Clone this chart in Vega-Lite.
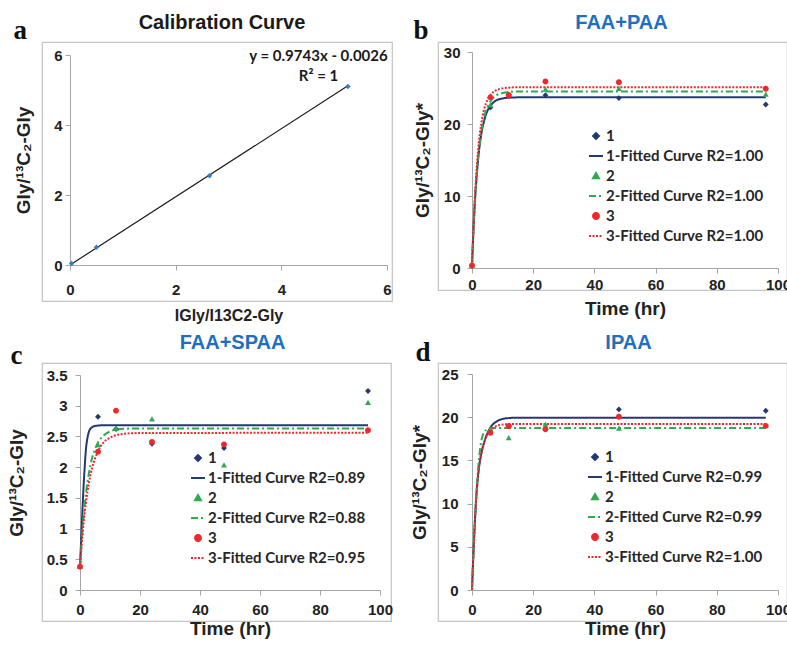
{
"$schema": "https://vega.github.io/schema/vega-lite/v6.json",
"background": "white",
"padding": {"left": 6, "top": 12, "right": 0, "bottom": 0},
"datasets": {
"calib": [{"x":0.03,"y":0.04},{"x":0.5,"y":0.51},{"x":2.64,"y":2.55},{"x":5.26,"y":5.1}],
"calibFit": [{"x":0.03,"y":0.03},{"x":5.26,"y":5.12}],
"pts": [
{"panel":"b","t":0,"v":0.3,"series":"1"},{"panel":"b","t":6,"v":22.3,"series":"1"},{"panel":"b","t":12,"v":24.1,"series":"1"},{"panel":"b","t":24,"v":24.0,"series":"1"},{"panel":"b","t":48,"v":23.6,"series":"1"},{"panel":"b","t":96,"v":22.7,"series":"1"},
{"panel":"b","t":0,"v":0.3,"series":"2"},{"panel":"b","t":6,"v":22.6,"series":"2"},{"panel":"b","t":12,"v":24.1,"series":"2"},{"panel":"b","t":24,"v":24.8,"series":"2"},{"panel":"b","t":48,"v":24.9,"series":"2"},{"panel":"b","t":96,"v":24.1,"series":"2"},
{"panel":"b","t":0,"v":0.35,"series":"3"},{"panel":"b","t":6,"v":23.7,"series":"3"},{"panel":"b","t":12,"v":24.0,"series":"3"},{"panel":"b","t":24,"v":25.9,"series":"3"},{"panel":"b","t":48,"v":25.8,"series":"3"},{"panel":"b","t":96,"v":24.9,"series":"3"},
{"panel":"c","t":0,"v":0.38,"series":"1"},{"panel":"c","t":6,"v":2.82,"series":"1"},{"panel":"c","t":12,"v":2.62,"series":"1"},{"panel":"c","t":24,"v":2.38,"series":"1"},{"panel":"c","t":48,"v":2.31,"series":"1"},{"panel":"c","t":96,"v":3.24,"series":"1"},
{"panel":"c","t":0,"v":0.38,"series":"2"},{"panel":"c","t":6,"v":2.36,"series":"2"},{"panel":"c","t":12,"v":2.63,"series":"2"},{"panel":"c","t":24,"v":2.78,"series":"2"},{"panel":"c","t":48,"v":2.03,"series":"2"},{"panel":"c","t":96,"v":3.05,"series":"2"},
{"panel":"c","t":0,"v":0.38,"series":"3"},{"panel":"c","t":6,"v":2.25,"series":"3"},{"panel":"c","t":12,"v":2.92,"series":"3"},{"panel":"c","t":24,"v":2.41,"series":"3"},{"panel":"c","t":48,"v":2.37,"series":"3"},{"panel":"c","t":96,"v":2.6,"series":"3"},
{"panel":"d","t":6,"v":18.3,"series":"1"},{"panel":"d","t":12,"v":19.0,"series":"1"},{"panel":"d","t":24,"v":18.6,"series":"1"},{"panel":"d","t":48,"v":20.9,"series":"1"},{"panel":"d","t":96,"v":20.75,"series":"1"},
{"panel":"d","t":6,"v":18.6,"series":"2"},{"panel":"d","t":12,"v":17.6,"series":"2"},{"panel":"d","t":24,"v":19.15,"series":"2"},{"panel":"d","t":48,"v":18.7,"series":"2"},{"panel":"d","t":96,"v":19.0,"series":"2"},
{"panel":"d","t":6,"v":18.2,"series":"3"},{"panel":"d","t":12,"v":18.95,"series":"3"},{"panel":"d","t":24,"v":18.6,"series":"3"},{"panel":"d","t":48,"v":20.05,"series":"3"},{"panel":"d","t":96,"v":19.0,"series":"3"}
],
"fit": [
{"panel":"b","series":"1-Fitted Curve R2=1.00","t":0,"v":0.3},{"panel":"b","series":"1-Fitted Curve R2=1.00","t":0.5,"v":5.5},{"panel":"b","series":"1-Fitted Curve R2=1.00","t":1,"v":9.5},{"panel":"b","series":"1-Fitted Curve R2=1.00","t":1.5,"v":12.6},{"panel":"b","series":"1-Fitted Curve R2=1.00","t":2,"v":15.1},{"panel":"b","series":"1-Fitted Curve R2=1.00","t":3,"v":18.5},{"panel":"b","series":"1-Fitted Curve R2=1.00","t":4,"v":20.5},{"panel":"b","series":"1-Fitted Curve R2=1.00","t":5,"v":21.8},{"panel":"b","series":"1-Fitted Curve R2=1.00","t":6,"v":22.5},{"panel":"b","series":"1-Fitted Curve R2=1.00","t":8,"v":23.3},{"panel":"b","series":"1-Fitted Curve R2=1.00","t":10,"v":23.55},{"panel":"b","series":"1-Fitted Curve R2=1.00","t":12,"v":23.65},{"panel":"b","series":"1-Fitted Curve R2=1.00","t":15,"v":23.7},{"panel":"b","series":"1-Fitted Curve R2=1.00","t":96,"v":23.7},
{"panel":"b","series":"2-Fitted Curve R2=1.00","t":0,"v":0.3},{"panel":"b","series":"2-Fitted Curve R2=1.00","t":0.5,"v":5.5},{"panel":"b","series":"2-Fitted Curve R2=1.00","t":1,"v":9.6},{"panel":"b","series":"2-Fitted Curve R2=1.00","t":1.5,"v":12.8},{"panel":"b","series":"2-Fitted Curve R2=1.00","t":2,"v":15.3},{"panel":"b","series":"2-Fitted Curve R2=1.00","t":3,"v":18.8},{"panel":"b","series":"2-Fitted Curve R2=1.00","t":4,"v":21.0},{"panel":"b","series":"2-Fitted Curve R2=1.00","t":5,"v":22.3},{"panel":"b","series":"2-Fitted Curve R2=1.00","t":6,"v":23.1},{"panel":"b","series":"2-Fitted Curve R2=1.00","t":8,"v":24.0},{"panel":"b","series":"2-Fitted Curve R2=1.00","t":10,"v":24.3},{"panel":"b","series":"2-Fitted Curve R2=1.00","t":12,"v":24.45},{"panel":"b","series":"2-Fitted Curve R2=1.00","t":15,"v":24.5},{"panel":"b","series":"2-Fitted Curve R2=1.00","t":96,"v":24.5},
{"panel":"b","series":"3-Fitted Curve R2=1.00","t":0,"v":0.35},{"panel":"b","series":"3-Fitted Curve R2=1.00","t":0.5,"v":6.0},{"panel":"b","series":"3-Fitted Curve R2=1.00","t":1,"v":10.3},{"panel":"b","series":"3-Fitted Curve R2=1.00","t":1.5,"v":13.7},{"panel":"b","series":"3-Fitted Curve R2=1.00","t":2,"v":16.4},{"panel":"b","series":"3-Fitted Curve R2=1.00","t":3,"v":20.0},{"panel":"b","series":"3-Fitted Curve R2=1.00","t":4,"v":22.1},{"panel":"b","series":"3-Fitted Curve R2=1.00","t":5,"v":23.3},{"panel":"b","series":"3-Fitted Curve R2=1.00","t":6,"v":24.0},{"panel":"b","series":"3-Fitted Curve R2=1.00","t":8,"v":24.7},{"panel":"b","series":"3-Fitted Curve R2=1.00","t":10,"v":24.95},{"panel":"b","series":"3-Fitted Curve R2=1.00","t":12,"v":25.05},{"panel":"b","series":"3-Fitted Curve R2=1.00","t":15,"v":25.1},{"panel":"b","series":"3-Fitted Curve R2=1.00","t":96,"v":25.1},
{"panel":"c","series":"1-Fitted Curve R2=0.89","t":0,"v":0.38},{"panel":"c","series":"1-Fitted Curve R2=0.89","t":0.5,"v":0.95},{"panel":"c","series":"1-Fitted Curve R2=0.89","t":1,"v":1.5},{"panel":"c","series":"1-Fitted Curve R2=0.89","t":1.5,"v":1.95},{"panel":"c","series":"1-Fitted Curve R2=0.89","t":2,"v":2.3},{"panel":"c","series":"1-Fitted Curve R2=0.89","t":2.5,"v":2.48},{"panel":"c","series":"1-Fitted Curve R2=0.89","t":3,"v":2.58},{"panel":"c","series":"1-Fitted Curve R2=0.89","t":4,"v":2.65},{"panel":"c","series":"1-Fitted Curve R2=0.89","t":5,"v":2.67},{"panel":"c","series":"1-Fitted Curve R2=0.89","t":7,"v":2.68},{"panel":"c","series":"1-Fitted Curve R2=0.89","t":96,"v":2.68},
{"panel":"c","series":"2-Fitted Curve R2=0.88","t":0,"v":0.38},{"panel":"c","series":"2-Fitted Curve R2=0.88","t":1,"v":1.09},{"panel":"c","series":"2-Fitted Curve R2=0.88","t":2,"v":1.58},{"panel":"c","series":"2-Fitted Curve R2=0.88","t":3,"v":1.91},{"panel":"c","series":"2-Fitted Curve R2=0.88","t":4,"v":2.14},{"panel":"c","series":"2-Fitted Curve R2=0.88","t":5,"v":2.29},{"panel":"c","series":"2-Fitted Curve R2=0.88","t":6,"v":2.4},{"panel":"c","series":"2-Fitted Curve R2=0.88","t":8,"v":2.52},{"panel":"c","series":"2-Fitted Curve R2=0.88","t":10,"v":2.58},{"panel":"c","series":"2-Fitted Curve R2=0.88","t":12,"v":2.61},{"panel":"c","series":"2-Fitted Curve R2=0.88","t":15,"v":2.625},{"panel":"c","series":"2-Fitted Curve R2=0.88","t":20,"v":2.63},{"panel":"c","series":"2-Fitted Curve R2=0.88","t":96,"v":2.63},
{"panel":"c","series":"3-Fitted Curve R2=0.95","t":0,"v":0.38},{"panel":"c","series":"3-Fitted Curve R2=0.95","t":1,"v":0.99},{"panel":"c","series":"3-Fitted Curve R2=0.95","t":2,"v":1.43},{"panel":"c","series":"3-Fitted Curve R2=0.95","t":3,"v":1.75},{"panel":"c","series":"3-Fitted Curve R2=0.95","t":4,"v":1.98},{"panel":"c","series":"3-Fitted Curve R2=0.95","t":5,"v":2.14},{"panel":"c","series":"3-Fitted Curve R2=0.95","t":6,"v":2.26},{"panel":"c","series":"3-Fitted Curve R2=0.95","t":8,"v":2.41},{"panel":"c","series":"3-Fitted Curve R2=0.95","t":10,"v":2.48},{"panel":"c","series":"3-Fitted Curve R2=0.95","t":12,"v":2.52},{"panel":"c","series":"3-Fitted Curve R2=0.95","t":15,"v":2.545},{"panel":"c","series":"3-Fitted Curve R2=0.95","t":20,"v":2.555},{"panel":"c","series":"3-Fitted Curve R2=0.95","t":96,"v":2.56},
{"panel":"d","series":"1-Fitted Curve R2=0.99","t":0,"v":0},{"panel":"d","series":"1-Fitted Curve R2=0.99","t":0.5,"v":4.5},{"panel":"d","series":"1-Fitted Curve R2=0.99","t":1,"v":8.3},{"panel":"d","series":"1-Fitted Curve R2=0.99","t":1.5,"v":11.3},{"panel":"d","series":"1-Fitted Curve R2=0.99","t":2,"v":13.3},{"panel":"d","series":"1-Fitted Curve R2=0.99","t":3,"v":15.7},{"panel":"d","series":"1-Fitted Curve R2=0.99","t":4,"v":17.1},{"panel":"d","series":"1-Fitted Curve R2=0.99","t":5,"v":18.1},{"panel":"d","series":"1-Fitted Curve R2=0.99","t":6,"v":18.8},{"panel":"d","series":"1-Fitted Curve R2=0.99","t":8,"v":19.5},{"panel":"d","series":"1-Fitted Curve R2=0.99","t":10,"v":19.8},{"panel":"d","series":"1-Fitted Curve R2=0.99","t":12,"v":19.9},{"panel":"d","series":"1-Fitted Curve R2=0.99","t":15,"v":19.95},{"panel":"d","series":"1-Fitted Curve R2=0.99","t":96,"v":19.95},
{"panel":"d","series":"2-Fitted Curve R2=0.99","t":0,"v":0},{"panel":"d","series":"2-Fitted Curve R2=0.99","t":0.5,"v":4.6},{"panel":"d","series":"2-Fitted Curve R2=0.99","t":1,"v":8.0},{"panel":"d","series":"2-Fitted Curve R2=0.99","t":1.5,"v":11.5},{"panel":"d","series":"2-Fitted Curve R2=0.99","t":2,"v":14.0},{"panel":"d","series":"2-Fitted Curve R2=0.99","t":2.5,"v":15.9},{"panel":"d","series":"2-Fitted Curve R2=0.99","t":3,"v":17.2},{"panel":"d","series":"2-Fitted Curve R2=0.99","t":3.5,"v":17.9},{"panel":"d","series":"2-Fitted Curve R2=0.99","t":4,"v":18.3},{"panel":"d","series":"2-Fitted Curve R2=0.99","t":5,"v":18.6},{"panel":"d","series":"2-Fitted Curve R2=0.99","t":6,"v":18.7},{"panel":"d","series":"2-Fitted Curve R2=0.99","t":8,"v":18.75},{"panel":"d","series":"2-Fitted Curve R2=0.99","t":96,"v":18.75},
{"panel":"d","series":"3-Fitted Curve R2=1.00","t":0,"v":0},{"panel":"d","series":"3-Fitted Curve R2=1.00","t":0.5,"v":4.6},{"panel":"d","series":"3-Fitted Curve R2=1.00","t":1,"v":8.4},{"panel":"d","series":"3-Fitted Curve R2=1.00","t":1.5,"v":11.3},{"panel":"d","series":"3-Fitted Curve R2=1.00","t":2,"v":13.4},{"panel":"d","series":"3-Fitted Curve R2=1.00","t":3,"v":15.8},{"panel":"d","series":"3-Fitted Curve R2=1.00","t":4,"v":17.2},{"panel":"d","series":"3-Fitted Curve R2=1.00","t":5,"v":18.0},{"panel":"d","series":"3-Fitted Curve R2=1.00","t":6,"v":18.5},{"panel":"d","series":"3-Fitted Curve R2=1.00","t":8,"v":19.0},{"panel":"d","series":"3-Fitted Curve R2=1.00","t":10,"v":19.15},{"panel":"d","series":"3-Fitted Curve R2=1.00","t":12,"v":19.2},{"panel":"d","series":"3-Fitted Curve R2=1.00","t":96,"v":19.2}
]
},
"concat": [
{
"width": 350, "height": 259,
"title": {"text": "Calibration Curve", "color": "#1a1a1a", "dx": 5, "dy": 21},
"resolve": {"axis": {"x": "independent", "y": "independent"}},
"encoding": {
"x": {"field": "x", "type": "quantitative", "scale": {"domain": [0, 6], "range": [28, 345], "nice": false, "zero": false}, "axis": {"values": [0, 2, 4, 6], "format": "d", "offset": -36, "labelPadding": 12, "title": "IGly/I13C2-Gly", "titleFontSize": 16, "titlePadding": 10}},
"y": {"field": "y", "type": "quantitative", "scale": {"domain": [0, 6], "range": [223, 13], "nice": false, "zero": false}, "axis": {"values": [0, 2, 4, 6], "format": "d", "offset": -28, "labelPadding": 3, "title": "Gly/¹³C₂-Gly", "titlePadding": 20}}
},
"layer": [
{"data": {"name": "calibFit"}, "mark": {"type": "line", "color": "#1a1a1a", "strokeWidth": 1.2},
 "encoding": {"x": {"field": "x", "type": "quantitative", "scale": {"domain": [0, 6], "range": [28, 345], "nice": false, "zero": false}, "axis": {"orient": "top", "domain": false, "ticks": false, "labels": false, "title": "a", "titleFont": "Liberation Serif", "titleFontSize": 27, "titleFontWeight": "bold", "titleColor": "#111111", "titleX": -29, "titleY": -4, "titleAlign": "left", "titleBaseline": "alphabetic", "titleAngle": 0}},
  "y": {"field": "y", "type": "quantitative", "scale": {"domain": [0, 6], "range": [223, 13], "nice": false, "zero": false}, "axis": {"orient": "right", "domain": false, "ticks": false, "labels": false, "title": ["y = 0.9743x - 0.0026", "R² = 1"], "titleFont": "Lato", "titleFontSize": 15, "titleFontWeight": "bold", "titleColor": "#1a1a1a", "titleAngle": 0, "titleX": -74, "titleY": 18, "titleAlign": "center", "titleBaseline": "alphabetic", "titleLineHeight": 20}}}},
{"data": {"name": "calib"}, "mark": {"type": "point", "shape": "diamond", "filled": true, "size": 30, "color": "#2f80c8", "opacity": 1}}
]
},
{
"width": 349, "height": 248,
"title": {"text": "FAA+PAA", "color": "#1f6fc0", "dx": 9, "dy": 21},
"resolve": {"axis": {"x": "independent"}},
"encoding": {
"x": {"field": "t", "type": "quantitative", "scale": {"domain": [0, 100], "range": [34, 340], "nice": false, "zero": false}, "axis": {"values": [0, 20, 40, 60, 80, 100], "format": "d", "offset": -22, "labelPadding": 4, "title": "Time (hr)", "titlePadding": 7}},
"y": {"field": "v", "type": "quantitative", "scale": {"domain": [0, 30], "range": [226, 10], "nice": false, "zero": false}, "axis": {"values": [0, 10, 20, 30], "format": "d", "offset": -34, "labelPadding": 7, "title": "Gly/¹³C₂-Gly*", "titlePadding": 11}},
"color": {"field": "series", "type": "nominal", "scale": {"domain": ["1", "1-Fitted Curve R2=1.00", "2", "2-Fitted Curve R2=1.00", "3", "3-Fitted Curve R2=1.00"], "range": ["#223a70", "#223a70", "#2eaa4f", "#2eaa4f", "#f0282d", "#f0282d"]},
 "legend": {"orient": "none", "legendX": 150, "legendY": 86, "title": null, "labelFont": "Lato", "labelFontWeight": "bold", "labelFontSize": 15, "labelColor": "#262626", "symbolSize": 196, "symbolStrokeWidth": 2, "rowPadding": 4, "labelOffset": 2, "padding": 0}}
},
"layer": [
{"data": {"name": "fit"}, "transform": [{"filter": "datum.panel=='b'"}], "mark": {"type": "line", "strokeWidth": 2, "interpolate": "monotone"},
 "encoding": {"x": {"field": "t", "type": "quantitative", "scale": {"domain": [0, 100], "range": [34, 340], "nice": false, "zero": false}, "axis": {"orient": "top", "domain": false, "ticks": false, "labels": false, "title": "b", "titleFont": "Liberation Serif", "titleFontSize": 27, "titleFontWeight": "bold", "titleColor": "#111111", "titleX": -25, "titleY": -4, "titleAlign": "left", "titleBaseline": "alphabetic", "titleAngle": 0}},
  "strokeDash": {"field": "series", "type": "nominal", "scale": {"domain": ["1", "1-Fitted Curve R2=1.00", "2", "2-Fitted Curve R2=1.00", "3", "3-Fitted Curve R2=1.00"], "range": [[1, 0], [1, 0], [1, 0], [7, 3, 2, 3], [1, 0], [2, 1.5]]}, "legend": {"title": null}}}},
{"data": {"name": "pts"}, "transform": [{"filter": "datum.panel=='b'"}], "mark": {"type": "point", "filled": true, "size": 196, "opacity": 1},
 "encoding": {"shape": {"field": "series", "type": "nominal", "scale": {"domain": ["1", "1-Fitted Curve R2=1.00", "2", "2-Fitted Curve R2=1.00", "3", "3-Fitted Curve R2=1.00"], "range": ["M0,-0.42L0.42,0L0,0.42L-0.42,0Z", "stroke", "M0,-0.42L0.42,0.32L-0.42,0.32Z", "stroke", "M-0.42,0A0.42,0.42,0,1,0,0.42,0A0.42,0.42,0,1,0,-0.42,0Z", "stroke"]}, "legend": {"title": null}}}}
]
},
{
"width": 349, "height": 258,
"title": {"text": "FAA+SPAA", "color": "#1f6fc0", "dx": 16, "dy": 16},
"resolve": {"axis": {"x": "independent"}},
"encoding": {
"x": {"field": "t", "type": "quantitative", "scale": {"domain": [0, 100], "range": [38, 338], "nice": false, "zero": false}, "axis": {"values": [0, 20, 40, 60, 80, 100], "format": "d", "offset": -31, "labelPadding": 7, "title": "Time (hr)", "titlePadding": 2}},
"y": {"field": "v", "type": "quantitative", "scale": {"domain": [0, 3.5], "range": [227, 12], "nice": false, "zero": false}, "axis": {"values": [0, 0.5, 1, 1.5, 2, 2.5, 3, 3.5], "format": "~r", "offset": -38, "labelPadding": 8, "title": "Gly/¹³C₂-Gly", "titlePadding": 20}},
"color": {"field": "series", "type": "nominal", "scale": {"domain": ["1", "1-Fitted Curve R2=0.89", "2", "2-Fitted Curve R2=0.88", "3", "3-Fitted Curve R2=0.95"], "range": ["#223a70", "#223a70", "#2eaa4f", "#2eaa4f", "#f0282d", "#f0282d"]},
 "legend": {"orient": "none", "legendX": 148, "legendY": 87, "title": null, "labelFont": "Lato", "labelFontWeight": "bold", "labelFontSize": 15, "labelColor": "#262626", "symbolSize": 196, "symbolStrokeWidth": 2, "rowPadding": 4, "labelOffset": 2, "padding": 0}}
},
"layer": [
{"data": {"name": "fit"}, "transform": [{"filter": "datum.panel=='c'"}], "mark": {"type": "line", "strokeWidth": 2, "interpolate": "monotone"},
 "encoding": {"x": {"field": "t", "type": "quantitative", "scale": {"domain": [0, 100], "range": [38, 338], "nice": false, "zero": false}, "axis": {"orient": "top", "domain": false, "ticks": false, "labels": false, "title": "c", "titleFont": "Liberation Serif", "titleFontSize": 27, "titleFontWeight": "bold", "titleColor": "#111111", "titleX": -32, "titleY": 0, "titleAlign": "left", "titleBaseline": "alphabetic", "titleAngle": 0}},
  "strokeDash": {"field": "series", "type": "nominal", "scale": {"domain": ["1", "1-Fitted Curve R2=0.89", "2", "2-Fitted Curve R2=0.88", "3", "3-Fitted Curve R2=0.95"], "range": [[1, 0], [1, 0], [1, 0], [7, 3, 2, 3], [1, 0], [2, 1.5]]}, "legend": {"title": null}}}},
{"data": {"name": "pts"}, "transform": [{"filter": "datum.panel=='c'"}], "mark": {"type": "point", "filled": true, "size": 196, "opacity": 1},
 "encoding": {"shape": {"field": "series", "type": "nominal", "scale": {"domain": ["1", "1-Fitted Curve R2=0.89", "2", "2-Fitted Curve R2=0.88", "3", "3-Fitted Curve R2=0.95"], "range": ["M0,-0.42L0.42,0L0,0.42L-0.42,0Z", "stroke", "M0,-0.42L0.42,0.32L-0.42,0.32Z", "stroke", "M-0.42,0A0.42,0.42,0,1,0,0.42,0A0.42,0.42,0,1,0,-0.42,0Z", "stroke"]}, "legend": {"title": null}}}}
]
},
{
"width": 349, "height": 258,
"title": {"text": "IPAA", "color": "#1f6fc0", "dx": 16, "dy": 19},
"resolve": {"axis": {"x": "independent"}},
"encoding": {
"x": {"field": "t", "type": "quantitative", "scale": {"domain": [0, 100], "range": [34, 340], "nice": false, "zero": false}, "axis": {"values": [0, 20, 40, 60, 80, 100], "format": "d", "offset": -31, "labelPadding": 7, "title": "Time (hr)", "titlePadding": 2}},
"y": {"field": "v", "type": "quantitative", "scale": {"domain": [0, 25], "range": [227, 11], "nice": false, "zero": false}, "axis": {"values": [0, 5, 10, 15, 20, 25], "format": "d", "offset": -34, "labelPadding": 9, "title": "Gly/¹³C₂-Gly*", "titlePadding": 12}},
"color": {"field": "series", "type": "nominal", "scale": {"domain": ["1", "1-Fitted Curve R2=0.99", "2", "2-Fitted Curve R2=0.99", "3", "3-Fitted Curve R2=1.00"], "range": ["#223a70", "#223a70", "#2eaa4f", "#2eaa4f", "#f0282d", "#f0282d"]},
 "legend": {"orient": "none", "legendX": 149, "legendY": 86, "title": null, "labelFont": "Lato", "labelFontWeight": "bold", "labelFontSize": 15, "labelColor": "#262626", "symbolSize": 196, "symbolStrokeWidth": 2, "rowPadding": 4, "labelOffset": 2, "padding": 0}}
},
"layer": [
{"data": {"name": "fit"}, "transform": [{"filter": "datum.panel=='d'"}], "mark": {"type": "line", "strokeWidth": 2, "interpolate": "monotone"},
 "encoding": {"x": {"field": "t", "type": "quantitative", "scale": {"domain": [0, 100], "range": [34, 340], "nice": false, "zero": false}, "axis": {"orient": "top", "domain": false, "ticks": false, "labels": false, "title": "d", "titleFont": "Liberation Serif", "titleFontSize": 27, "titleFontWeight": "bold", "titleColor": "#111111", "titleX": -23, "titleY": -3, "titleAlign": "left", "titleBaseline": "alphabetic", "titleAngle": 0}},
  "strokeDash": {"field": "series", "type": "nominal", "scale": {"domain": ["1", "1-Fitted Curve R2=0.99", "2", "2-Fitted Curve R2=0.99", "3", "3-Fitted Curve R2=1.00"], "range": [[1, 0], [1, 0], [1, 0], [7, 3, 2, 3], [1, 0], [2, 1.5]]}, "legend": {"title": null}}}},
{"data": {"name": "pts"}, "transform": [{"filter": "datum.panel=='d'"}], "mark": {"type": "point", "filled": true, "size": 196, "opacity": 1},
 "encoding": {"shape": {"field": "series", "type": "nominal", "scale": {"domain": ["1", "1-Fitted Curve R2=0.99", "2", "2-Fitted Curve R2=0.99", "3", "3-Fitted Curve R2=1.00"], "range": ["M0,-0.42L0.42,0L0,0.42L-0.42,0Z", "stroke", "M0,-0.42L0.42,0.32L-0.42,0.32Z", "stroke", "M-0.42,0A0.42,0.42,0,1,0,0.42,0A0.42,0.42,0,1,0,-0.42,0Z", "stroke"]}, "legend": {"title": null}}}}
]
}
],
"columns": 2,
"spacing": {"row": 62, "column": 46},
"bounds": "flush",
"resolve": {"scale": {"color": "independent", "shape": "independent", "strokeDash": "independent"}, "legend": {"color": "independent", "shape": "independent", "strokeDash": "independent"}},
"config": {
"view": {"stroke": "#c4c4c4", "strokeWidth": 1.2},
"font": "Liberation Sans",
"axis": {"domainColor": "#a6a6a6", "tickColor": "#a6a6a6", "tickSize": 5, "grid": false, "labelFont": "Liberation Sans", "labelFontWeight": "bold", "labelFontSize": 15, "labelColor": "#222222", "titleFont": "Liberation Sans", "titleFontWeight": "bold", "titleFontSize": 19, "titleColor": "#222222", "labelFlush": false, "labelOverlap": false},
"title": {"font": "Liberation Sans", "fontWeight": "bold", "fontSize": 20, "anchor": "middle", "frame": "group", "offset": 4}
}
}
